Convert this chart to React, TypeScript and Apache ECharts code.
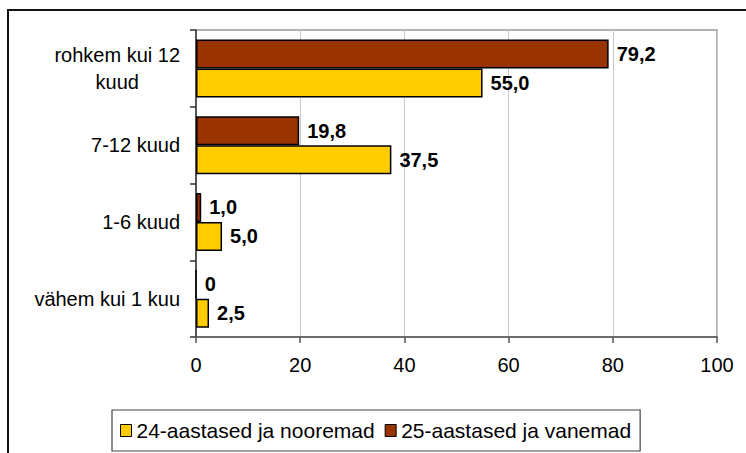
import React, { useEffect, useRef } from "react";
import * as echarts from "echarts";

const categories = ["vähem kui 1 kuu", "1-6 kuud", "7-12 kuud", "rohkem kui 12\nkuud"];
const seriesNames = ["24-aastased ja nooremad", "25-aastased ja vanemad"];
const youngValues = [2.5, 5.0, 37.5, 55.0];
const olderValues = [0, 1.0, 19.8, 79.2];
const xTicks = [0, 20, 40, 60, 80, 100];

const FONT = "'Liberation Sans', Arial, sans-serif";

const fmt = (v: number) => (v === 0 ? "0" : v.toFixed(1).replace(".", ","));

export default function App() {
  const ref = useRef<HTMLDivElement>(null);
  useEffect(() => {
    if (!ref.current) return;
    const chart = echarts.init(ref.current, undefined, { renderer: "svg" });
    const labelStyle = {
      show: true,
      position: "right" as const,
      distance: 8,
      fontFamily: FONT,
      fontSize: 20,
      fontWeight: "bold" as const,
      color: "#000",
      formatter: (p: any) => fmt(p.value),
    };
    chart.setOption({
      animation: false,
      backgroundColor: "#fff",
      textStyle: { fontFamily: FONT },
      graphic: [
        {
          type: "rect",
          left: 7,
          top: 9,
          z: 100,
          silent: true,
          shape: { x: 0, y: 0, width: 760, height: 460 },
          style: { fill: "rgba(0,0,0,0)", stroke: "#111", lineWidth: 2 },
        },
      ],
      grid: {
        left: 196,
        top: 30,
        right: 29,
        bottom: 116,
        show: true,
        borderColor: "#999",
        borderWidth: 1.5,
        backgroundColor: "transparent",
      },
      legend: {
        left: 112,
        top: 410,
        orient: "horizontal",
        padding: [10, 9, 10, 8],
        borderColor: "#444",
        borderWidth: 1.2,
        itemWidth: 11,
        itemHeight: 12,
        itemGap: 10,
        icon: "rect",
        textStyle: { fontFamily: FONT, fontSize: 21, color: "#000" },
        data: seriesNames.map((n) => ({
          name: n,
          itemStyle: { borderColor: "#000", borderWidth: 1 },
        })),
      },
      xAxis: {
        type: "value",
        min: xTicks[0],
        max: xTicks[xTicks.length - 1],
        interval: 20,
        axisLine: { show: true, lineStyle: { color: "#555", width: 1.5 } },
        axisTick: { show: true, length: 6, lineStyle: { color: "#555", width: 1.5 } },
        axisLabel: {
          fontFamily: FONT,
          fontSize: 20,
          color: "#000",
          margin: 18,
          formatter: (v: number) => String(v),
        },
        splitLine: { show: true, lineStyle: { color: "#c8c8c8", width: 1 } },
      },
      yAxis: {
        type: "category",
        data: categories,
        axisLine: { show: true, onZero: false, lineStyle: { color: "#333", width: 1.5 } },
        axisTick: { show: true, length: 6, alignWithLabel: false, lineStyle: { color: "#333", width: 1.5 } },
        axisLabel: {
          fontFamily: FONT,
          fontSize: 20,
          color: "#000",
          margin: 16,
          formatter: (v: string) =>
            v
              .split("\n")
              .map((line) => `{c|${line}}`)
              .join("\n"),
          rich: {
            c: {
              fontFamily: FONT,
              fontSize: 20,
              color: "#000",
              align: "center",
              lineHeight: 27,
            },
          },
        },
        splitLine: { show: false },
      },
      series: [
        {
          name: seriesNames[1],
          type: "bar",
          data: olderValues,
          barWidth: 29,
          barGap: "0%",
          itemStyle: { color: "#993300", borderColor: "#000", borderWidth: 1.5 },
          label: labelStyle,
        },
        {
          name: seriesNames[0],
          type: "bar",
          data: youngValues,
          barWidth: 29,
          barGap: "0%",
          itemStyle: { color: "#FFCC00", borderColor: "#000", borderWidth: 1.5 },
          label: labelStyle,
        },
      ],
    });
    return () => chart.dispose();
  }, []);
  return (
    <div
      ref={ref}
      style={{ position: "fixed", left: 0, top: 0, width: 746, height: 453 }}
    />
  );
}
